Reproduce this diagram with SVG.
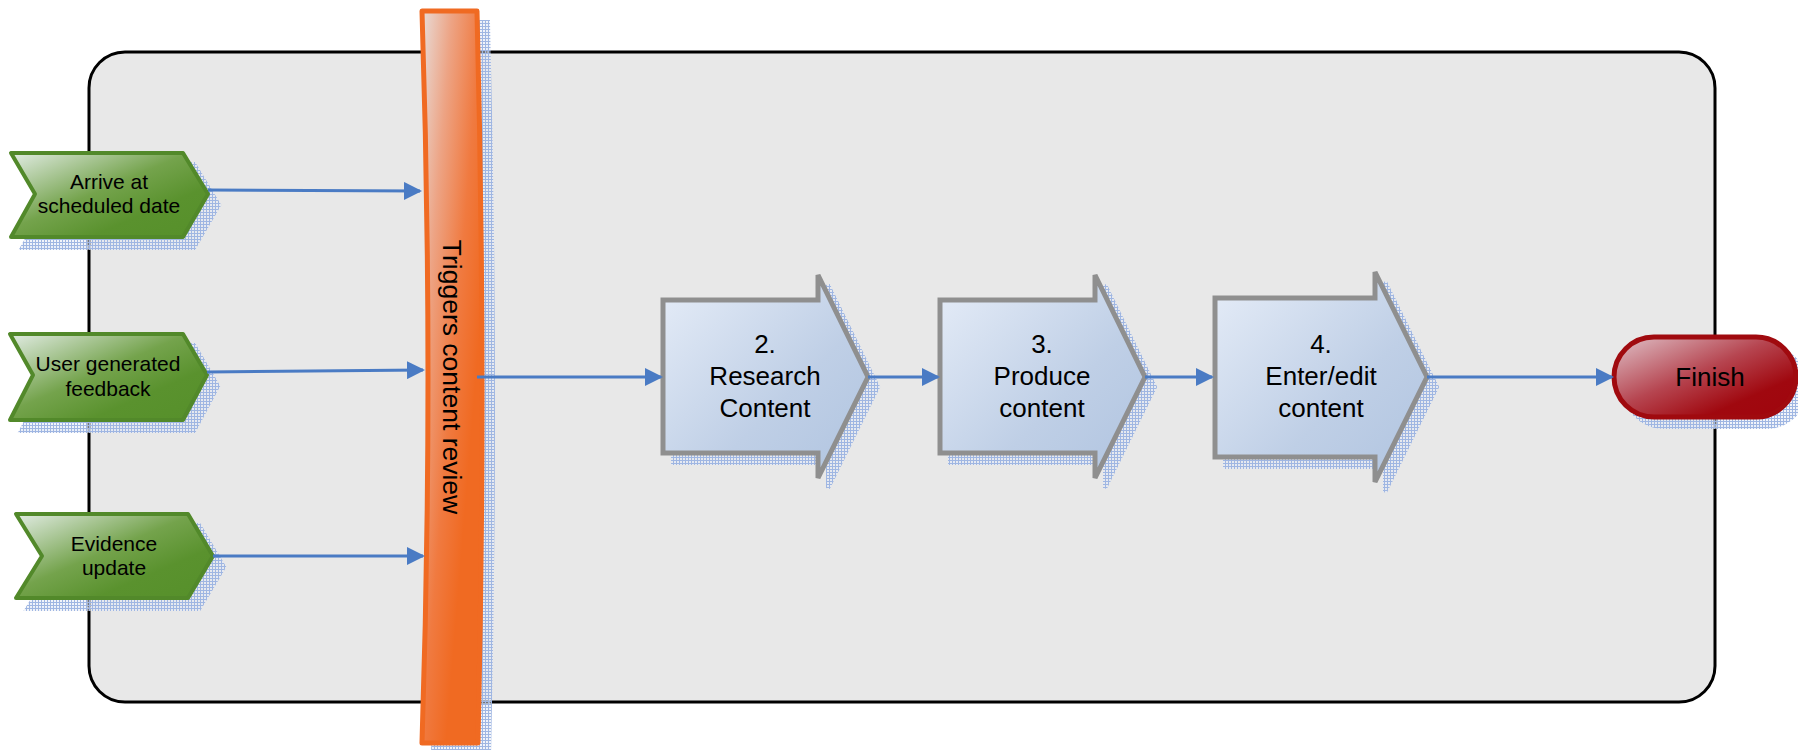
<svg xmlns="http://www.w3.org/2000/svg" width="1798" height="750" viewBox="0 0 1798 750">
<defs>
<style>
.txt{font-family:"Liberation Sans",Arial,sans-serif;fill:#000;text-anchor:middle}
.g{font-size:21px}
.p{font-size:26px}
.green{fill:url(#gGreen);stroke:#52892a;stroke-width:4;stroke-linejoin:round}
.blue{fill:url(#gBlue);stroke:#8f8f8f;stroke-width:5;stroke-linejoin:miter}
.shadow{fill:url(#dots);stroke:url(#dots);stroke-width:4}
.conn{fill:none;stroke:#4a7bc4;stroke-width:3;marker-end:url(#arr)}
</style>
<pattern id="dots" width="3" height="3" patternUnits="userSpaceOnUse">
<rect width="3" height="3" fill="#e4eaf5" fill-opacity="0.5"/>
<rect width="1" height="3" fill="#9fb6e2"/>
<rect width="3" height="1" fill="#9fb6e2"/>
</pattern>
<linearGradient id="gGreen" x1="0" y1="0" x2="1" y2="1">
<stop offset="0" stop-color="#e2ece4"/>
<stop offset="0.45" stop-color="#74a34c"/>
<stop offset="0.7" stop-color="#5a922e"/>
<stop offset="1" stop-color="#56902a"/>
</linearGradient>
<linearGradient id="gBlue" x1="0" y1="0" x2="1" y2="1">
<stop offset="0" stop-color="#e6edf8"/>
<stop offset="0.6" stop-color="#bfcfe6"/>
<stop offset="1" stop-color="#b0c4e0"/>
</linearGradient>
<linearGradient id="gRed" x1="0" y1="0" x2="1" y2="1">
<stop offset="0" stop-color="#e0c4cb"/>
<stop offset="0.45" stop-color="#b64550"/>
<stop offset="0.75" stop-color="#a0080f"/>
<stop offset="1" stop-color="#a0050d"/>
</linearGradient>
<linearGradient id="gOrange" x1="0" y1="0" x2="1" y2="1">
<stop offset="0" stop-color="#e8dcd8"/>
<stop offset="0.25" stop-color="#eda485"/>
<stop offset="0.5" stop-color="#f07a40"/>
<stop offset="0.7" stop-color="#f06a22"/>
<stop offset="1" stop-color="#f06a22"/>
</linearGradient>
<marker id="arr" viewBox="0 0 18 18" markerWidth="18" markerHeight="18" markerUnits="userSpaceOnUse" refX="16" refY="9" orient="auto">
<path d="M0,0 L18,9 L0,18 Z" fill="#4a7bc4"/>
</marker>
</defs>

<g id="container">
<rect x="89" y="52" width="1626" height="650" rx="36" ry="36" fill="#e8e8e8" stroke="#000" stroke-width="3"/>
</g>

<g id="shadows">
<path class="shadow" transform="translate(11,11)" d="M11,153 H183 L208,194 L183,237 H11 L35,194 Z"/>
<path class="shadow" transform="translate(11,11)" d="M10,334 H183 L207,375 L183,420 H10 L33,375 Z"/>
<path class="shadow" transform="translate(11,11)" d="M16,514 H188 L213,556 L188,598 H16 L42,556 Z"/>
<path class="shadow" transform="translate(11,11)" d="M422,11 L477,11 Q486.5,377 478,743 L422,743 Q434,377 422,11 Z"/>
<path class="shadow" transform="translate(10,10)" d="M663,300 H818 V275 L868,377 L818,478 V453 H663 Z"/>
<path class="shadow" transform="translate(10,10)" d="M940,300 H1095 V275 L1145,377 L1095,478 V453 H940 Z"/>
<path class="shadow" transform="translate(10,10)" d="M1215,298 H1375 V272 L1427,377 L1375,482 V457 H1215 Z"/>
<rect class="shadow" transform="translate(10,10)" x="1614" y="337" width="182" height="80" rx="40" ry="40"/>
</g>

<g id="n-arrive">
<path class="green" d="M11,153 H183 L208,194 L183,237 H11 L35,194 Z"/>
<text class="txt g" x="109" y="189">Arrive at</text>
<text class="txt g" x="109" y="213">scheduled date</text>
</g>
<g id="n-feedback">
<path class="green" d="M10,334 H183 L207,375 L183,420 H10 L33,375 Z"/>
<text class="txt g" x="108" y="371">User generated</text>
<text class="txt g" x="108" y="396">feedback</text>
</g>
<g id="n-evidence">
<path class="green" d="M16,514 H188 L213,556 L188,598 H16 L42,556 Z"/>
<text class="txt g" x="114" y="551">Evidence</text>
<text class="txt g" x="114" y="575">update</text>
</g>

<g id="n-trigger">
<path d="M422,11 L477,11 Q486.5,377 478,743 L422,743 Q434,377 422,11 Z" fill="url(#gOrange)" stroke="#f06a22" stroke-width="5" stroke-linejoin="round"/>
<text class="txt" font-size="26.5" transform="translate(443,377) rotate(90)" x="0" y="0">Triggers content review</text>
</g>

<g id="n-research">
<path class="blue" d="M663,300 H818 V275 L868,377 L818,478 V453 H663 Z"/>
<text class="txt p" x="765" y="353">2.</text>
<text class="txt p" x="765" y="385">Research</text>
<text class="txt p" x="765" y="417">Content</text>
</g>
<g id="n-produce">
<path class="blue" d="M940,300 H1095 V275 L1145,377 L1095,478 V453 H940 Z"/>
<text class="txt p" x="1042" y="353">3.</text>
<text class="txt p" x="1042" y="385">Produce</text>
<text class="txt p" x="1042" y="417">content</text>
</g>
<g id="n-enter">
<path class="blue" d="M1215,298 H1375 V272 L1427,377 L1375,482 V457 H1215 Z"/>
<text class="txt p" x="1321" y="353">4.</text>
<text class="txt p" x="1321" y="385">Enter/edit</text>
<text class="txt p" x="1321" y="417">content</text>
</g>
<g id="n-finish">
<rect x="1614" y="337" width="182" height="80" rx="40" ry="40" fill="url(#gRed)" stroke="#a00a0f" stroke-width="5"/>
<text class="txt p" x="1710" y="386">Finish</text>
</g>

<g id="connectors">
<line class="conn" x1="208" y1="190" x2="420" y2="191"/>
<line class="conn" x1="207" y1="372" x2="423" y2="370"/>
<line class="conn" x1="213" y1="556" x2="423" y2="556"/>
<line class="conn" x1="477" y1="377" x2="661" y2="377"/>
<line class="conn" x1="868" y1="377" x2="938" y2="377"/>
<line class="conn" x1="1145" y1="377" x2="1212" y2="377"/>
<line class="conn" x1="1427" y1="377" x2="1612" y2="377"/>
</g>
</svg>
